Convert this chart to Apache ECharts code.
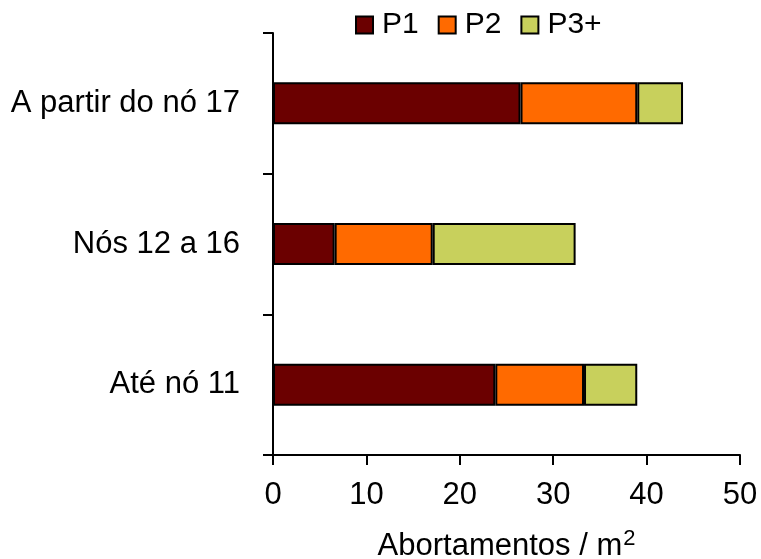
<!DOCTYPE html>
<html>
<head>
<meta charset="utf-8">
<script src="https://cdn.jsdelivr.net/npm/echarts@6/dist/echarts.min.js"></script>
<style>html,body{margin:0;padding:0;background:#fff}#c{width:761px;height:559px}</style>
</head>
<body>
<div id="c"></div>
<script>
const categories = ['Até nó 11', 'Nós 12 a 16', 'A partir do nó 17'];
const seriesNames = ['P1', 'P2', 'P3+'];
const p1 = [23.8, 6.6, 26.5];
const p2 = [9.5, 10.5, 12.5];
const p3 = [5.7, 15.3, 4.9];
const xTicks = [0, 10, 20, 30, 40, 50];
const colors = ['#6B0000', '#FF6A00', '#C8D05C'];
const values = [p1, p2, p3];

const font = 'Liberation Sans, Arial, sans-serif';
const chart = echarts.init(document.getElementById('c'));
chart.setOption({
  animation: false,
  backgroundColor: '#fff',
  legend: {
    top: 5,
    left: 350,
    icon: 'rect',
    itemWidth: 17,
    itemHeight: 17,
    itemGap: 19,
    textStyle: { fontFamily: font, fontSize: 30, color: '#000', padding: [0, 0, 0, 4] },
    data: seriesNames
  },
  grid: { left: 273, right: 21, top: 33, bottom: 104, containLabel: false, outerBoundsMode: 'none' },
  xAxis: {
    type: 'value',
    min: xTicks[0],
    max: xTicks[xTicks.length - 1],
    interval: 10,
    name: '{a|Abortamentos / m}{s|2}',
    nameLocation: 'middle',
    nameGap: 73,
    nameTextStyle: {
      fontFamily: font, fontSize: 31, color: '#000',
      rich: {
        a: { fontFamily: font, fontSize: 31, color: '#000', lineHeight: 34 },
        s: { fontFamily: font, fontSize: 22, color: '#000', padding: [0, 0, 14, 1] }
      }
    },
    axisLine: { show: true, lineStyle: { color: '#000', width: 2 } },
    axisTick: { show: true, length: 10, lineStyle: { color: '#000', width: 2 } },
    axisLabel: { fontFamily: font, fontSize: 31, color: '#000', margin: 25 },
    splitLine: { show: false }
  },
  yAxis: {
    type: 'category',
    data: categories,
    axisLine: { show: true, lineStyle: { color: '#000', width: 2 } },
    axisTick: { show: true, length: 10, lineStyle: { color: '#000', width: 2 } },
    axisLabel: { fontFamily: font, fontSize: 31, color: '#000', margin: 33 }
  },
  series: seriesNames.map((n, i) => ({
    name: n,
    type: 'bar',
    stack: 'total',
    barWidth: 42,
    data: values[i],
    itemStyle: { color: colors[i], borderColor: '#000', borderWidth: 2 }
  }))
});
</script>
</body>
</html>
